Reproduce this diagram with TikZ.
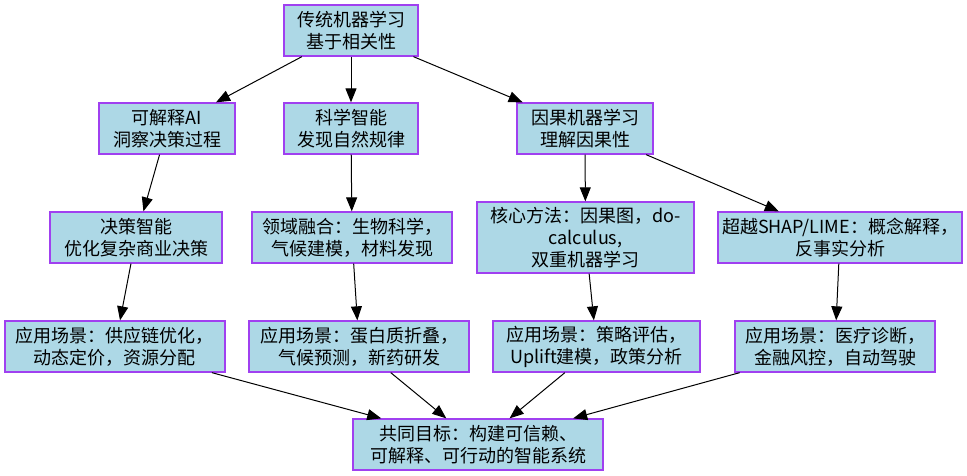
\documentclass[tikz,border=0pt]{standalone}
\usepackage{fontspec}
\newfontfamily\cjk{Noto Sans CJK SC}
\usetikzlibrary{arrows.meta}
\definecolor{boxfill}{HTML}{ADD8E6}
\definecolor{boxline}{HTML}{A040F0}
\begin{document}
\begin{tikzpicture}[x=1pt, y=-1pt,
    box/.style={draw=boxline, fill=boxfill, line width=1.3pt, align=center,
      inner sep=0pt, minimum height=51pt, font=\cjk\fontsize{18}{22}\selectfont},
    edge/.style={line width=1pt, -{Triangle[length=14pt, width=11pt]}}]
    \useasboundingbox (0,0) rectangle (967,476);
    % 节点
    \node[box, minimum width=134pt] (A) at (351, 30.5) {传统机器学习\\基于相关性};
    \node[box, minimum width=136pt] (B) at (167, 128.5) {可解释AI\\洞察决策过程};
    \node[box, minimum width=134pt] (C) at (351, 128.5) {科学智能\\发现自然规律};
    \node[box, minimum width=136pt] (D) at (585, 128.5) {因果机器学习\\理解因果性};
    \node[box, minimum width=172pt] (E) at (136, 237.5) {决策智能\\优化复杂商业决策};
    \node[box, minimum width=200pt] (F) at (352, 237.5) {领域融合：生物科学，\\气候建模，材料发现};
    \node[box, minimum width=217pt, minimum height=71pt] (G) at (585.5, 237.5) {核心方法：因果图，do-\\calculus,\\双重机器学习};
    \node[box, minimum width=244pt] (H) at (840, 237.5) {超越SHAP/LIME：概念解释，\\反事实分析};
    \node[box, minimum width=220pt] (I) at (115, 346.5) {应用场景：供应链优化，\\动态定价，资源分配};
    \node[box, minimum width=220pt] (J) at (359, 346.5) {应用场景：蛋白质折叠，\\气候预测，新药研发};
    \node[box, minimum width=207pt] (K) at (596.5, 346.5) {应用场景：策略评估，\\Uplift建模，政策分析};
    \node[box, minimum width=200pt] (L) at (835, 346.5) {应用场景：医疗诊断，\\金融风控，自动驾驶};
    \node[box, minimum width=250pt] (M) at (478, 444.5) {共同目标：构建可信赖、\\可解释、可行动的智能系统};

    % 边
    \draw[edge] (A) -- (B);
    \draw[edge] (A) -- (C);
    \draw[edge] (A) -- (D);
    \draw[edge] (B) -- (E);
    \draw[edge] (C) -- (F);
    \draw[edge] (D) -- (G);
    \draw[edge] (D) -- (H);
    \draw[edge] (E) -- (I);
    \draw[edge] (F) -- (J);
    \draw[edge] (G) -- (K);
    \draw[edge] (H) -- (L);
    \draw[edge] (I) -- (M);
    \draw[edge] (J) -- (M);
    \draw[edge] (K) -- (M);
    \draw[edge] (L) -- (M);
\end{tikzpicture}
\end{document}
